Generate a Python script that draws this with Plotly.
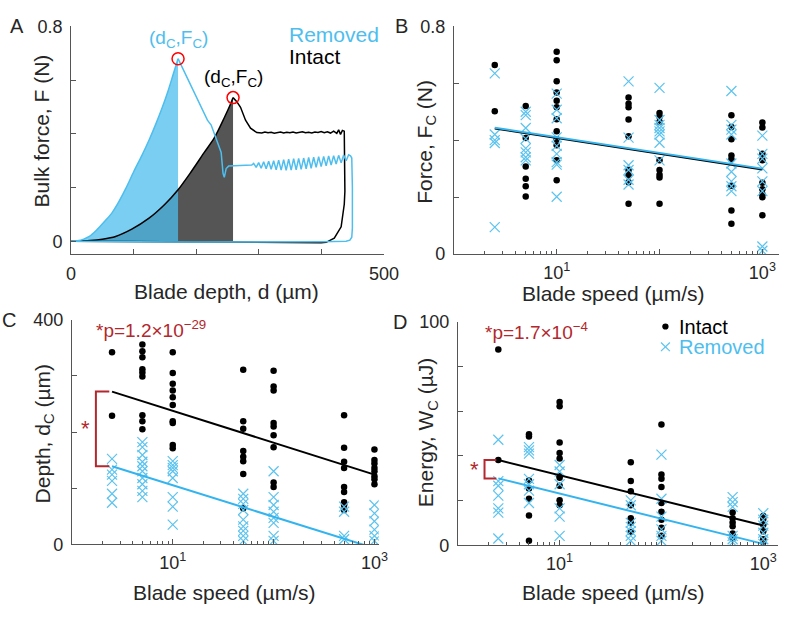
import plotly.graph_objects as go

W, H = 800, 623
def px(x): return x / W
def py(y): return 1 - y / H

BLUE = '#4DBEEE'
XBLUE = '#5cc3ef'
RED = '#b3272d'
TXT = '#262626'
AX = '#555555'
FONT = 'Arial, Liberation Sans, sans-serif'

# ---------------- Panel A: force-depth curves ----------------
rem_load_d = [0, 10, 20, 29, 40, 55, 65, 74, 87, 100, 113, 125, 136, 146, 155, 163, 171]
rem_load_F = [0, 0.002, 0.008, 0.018, 0.04, 0.078, 0.105, 0.138, 0.195, 0.259, 0.319, 0.379, 0.44, 0.5, 0.56, 0.62, 0.68]
rem_post_d = [195, 218, 224, 232, 240, 243, 245, 248, 252, 270, 289]
rem_post_F = [0.565, 0.451, 0.433, 0.385, 0.331, 0.253, 0.238, 0.271, 0.28, 0.282, 0.284]
rem_saw_d = [292, 296, 300, 304, 308, 312, 316, 320, 324, 328, 332, 336, 340, 344, 348, 352, 356, 360,
             364, 368, 372, 376, 380, 384, 388, 392, 396, 400, 404, 408, 412, 416, 420, 424, 428, 432,
             436, 440, 444, 447]
rem_saw_F = [0.290, 0.275, 0.293, 0.272, 0.296, 0.270, 0.298, 0.268, 0.300, 0.266, 0.302, 0.265, 0.304,
             0.264, 0.306, 0.265, 0.308, 0.266, 0.309, 0.268, 0.310, 0.270, 0.312, 0.272, 0.313, 0.275,
             0.315, 0.278, 0.316, 0.281, 0.318, 0.284, 0.319, 0.288, 0.320, 0.292, 0.321, 0.300, 0.322, 0.318]
rem_drop_d = [449, 450, 450, 449, 446, 440, 400, 300, 200, 100, 0]
rem_drop_F = [0.31, 0.2, 0.05, 0.015, 0.004, 0.0, -0.002, -0.003, -0.003, -0.002, 0]

int_load_d = [0, 30, 50, 71, 97, 124, 150, 171, 192, 213, 229, 245, 255, 259]
int_load_F = [0, 0.003, 0.008, 0.018, 0.045, 0.085, 0.138, 0.192, 0.259, 0.331, 0.385, 0.46, 0.511, 0.535]
int_post_d = [265, 271, 279, 287, 297, 305, 310, 315, 320, 325, 330, 335, 340, 345, 350, 355, 360, 365,
              370, 375, 380, 385, 390, 395, 400, 405, 410, 415, 420, 425, 428, 431, 434, 437]
int_post_F = [0.52, 0.499, 0.451, 0.421, 0.405, 0.403, 0.407, 0.404, 0.406, 0.402, 0.405, 0.407, 0.403,
              0.406, 0.404, 0.407, 0.403, 0.405, 0.408, 0.404, 0.406, 0.403, 0.407, 0.405, 0.409, 0.404,
              0.408, 0.403, 0.41, 0.402, 0.415, 0.398, 0.413, 0.41]
int_drop_d = [438, 438, 437, 432, 421, 408, 400, 300, 200, 100, 0]
int_drop_F = [0.30, 0.186, 0.138, 0.054, 0.012, -0.004, -0.005, -0.004, -0.003, -0.002, 0]

depth_ticks = [0, 100, 200, 300, 400, 500]
depth_ticktext = ['0', '', '', '', '', '500']

# ---------------- Panels B-D: per-speed data ----------------
speeds = [2.5, 5, 10, 50, 100, 500, 1000]

force_intact = [
    [0.664, 0.502],
    [0.52, 0.408, 0.307, 0.264, 0.238, 0.202],
    [0.711, 0.681, 0.607, 0.568, 0.539, 0.516, 0.474, 0.431, 0.403, 0.382, 0.329, 0.259],
    [0.55, 0.528, 0.516, 0.473, 0.414, 0.295, 0.276, 0.252, 0.176],
    [0.496, 0.482, 0.465, 0.329, 0.295, 0.278, 0.269, 0.176],
    [0.488, 0.446, 0.403, 0.346, 0.333, 0.24, 0.153, 0.106],
    [0.462, 0.445, 0.352, 0.329, 0.25, 0.227, 0.21, 0.199, 0.136],
]
force_removed = [
    [0.635, 0.42, 0.40, 0.39, 0.094],
    [0.50, 0.488, 0.443, 0.405, 0.371, 0.357, 0.34, 0.329],
    [0.564, 0.507, 0.477, 0.41, 0.38, 0.352, 0.323, 0.314, 0.201],
    [0.607, 0.409, 0.312, 0.295, 0.261, 0.244],
    [0.584, 0.471, 0.454, 0.443, 0.431, 0.42, 0.391, 0.329],
    [0.573, 0.454, 0.437, 0.42, 0.318, 0.289, 0.255, 0.238, 0.221],
    [0.416, 0.352, 0.335, 0.301, 0.255, 0.221, 0.026, 0.011],
]
depth_intact = [
    [342, 229],
    [356, 344, 333, 312, 306, 299, 230, 219, 205],
    [342, 305, 286, 274, 262, 248, 219, 216, 177, 171],
    [311, 219, 206, 166, 156, 148, 125, 64],
    [309, 281, 274, 216, 210, 194, 173, 110, 102],
    [230, 172, 147, 136, 102, 93, 75, 72, 70, 61],
    [169, 150, 144, 136, 130, 121, 116, 107],
]
depth_removed = [
    [152, 133, 124, 113, 90, 74],
    [182, 173, 159, 147, 139, 130, 118, 107, 95, 84],
    [148, 141, 136, 130, 118, 84, 67, 35],
    [90, 81, 72, 61, 44, 32, 24, 15, 6],
    [130, 84, 70, 58, 47, 38, 15, 6],
    [67, 58, 15, 9],
    [70, 55, 41, 26, 15, 6],
]
energy_intact = [
    [87.6, 38.1],
    [49.6, 48.6, 29.0, 25.4, 20.8, 13.3, 2.0],
    [64.1, 62.2, 46.0, 41.3, 38.8, 30.9, 30.2, 26.6, 20.1, 17.9],
    [37.1, 28.7, 24.1, 17.9, 12.1, 10.0, 5.9],
    [54.0, 31.6, 29.7, 26.1, 18.9, 15.0, 11.4, 7.8, 4.2],
    [14.6, 12.1, 10.2, 8.5, 5.2, 3.0],
    [13.1, 11.7, 9.2, 6.3, 2.7, 1.3],
]
energy_removed = [
    [47.2, 28.7, 26.6, 22.2, 16.5, 14.6, 3.0],
    [43.9, 42.4, 41.0, 29.7, 27.3, 24.4, 18.9],
    [35.9, 33.0, 27.3, 16.5, 12.8, 4.2],
    [20.1, 17.9, 10.0, 8.2, 6.3, 4.2, 2.0],
    [40.5, 20.8, 12.8, 7.1, 4.2, 2.0],
    [21.5, 19.3, 17.2, 4.2, 2.7, 1.3],
    [14.3, 11.4, 8.8, 5.6, 2.7, 0.6],
]

fit_x = [2.5, 1000]
fit_force_intact = [0.441, 0.297]
fit_force_removed = [0.444, 0.300]
fit_depth_intact = [272, 124]
fit_depth_removed = [139, -7]
fit_energy_intact = [38.1, 8.8]
fit_energy_removed = [29.9, 0.6]

p_depth = "*p=1.2×10<sup>−29</sup>"
p_energy = "*p=1.7×10<sup>−4</sup>"

fig = go.Figure()

# ---- Panel A traces ----
fig.add_trace(go.Scatter(x=int_load_d, y=int_load_F, xaxis='x', yaxis='y', mode='lines',
                         line=dict(width=0, shape='spline', smoothing=0.8), fill='tozeroy',
                         fillcolor='rgba(62,62,62,0.88)'))
fig.add_trace(go.Scatter(x=rem_load_d, y=rem_load_F, xaxis='x', yaxis='y', mode='lines',
                         line=dict(width=0, shape='spline', smoothing=0.8), fill='tozeroy',
                         fillcolor='rgba(77,190,238,0.75)'))
# black curve
fig.add_trace(go.Scatter(x=int_load_d, y=int_load_F, xaxis='x', yaxis='y', mode='lines',
                         line=dict(color='black', width=1.5, shape='spline', smoothing=0.8)))
fig.add_trace(go.Scatter(x=int_load_d[-1:] + int_post_d + int_drop_d, y=int_load_F[-1:] + int_post_F + int_drop_F,
                         xaxis='x', yaxis='y', mode='lines', line=dict(color='black', width=1.5)))
# blue curve
fig.add_trace(go.Scatter(x=rem_load_d, y=rem_load_F, xaxis='x', yaxis='y', mode='lines',
                         line=dict(color=BLUE, width=1.5, shape='spline', smoothing=0.8)))
fig.add_trace(go.Scatter(x=rem_load_d[-1:] + rem_post_d + rem_saw_d + rem_drop_d,
                         y=rem_load_F[-1:] + rem_post_F + rem_saw_F + rem_drop_F,
                         xaxis='x', yaxis='y', mode='lines', line=dict(color=BLUE, width=1.5)))
fig.add_trace(go.Scatter(x=[rem_load_d[-1], int_load_d[-1]], y=[rem_load_F[-1], int_load_F[-1]],
                         xaxis='x', yaxis='y', mode='markers',
                         marker=dict(symbol='circle-open', size=12, color='red', line=dict(width=1.5))))


def flat(groups):
    xs, ys = [], []
    for s, g in zip(speeds, groups):
        xs += [s] * len(g)
        ys += g
    return xs, ys


def add_panel(xa, ya, intact, removed, fi, fr):
    xi, yi = flat(intact)
    xr, yr = flat(removed)
    fig.add_trace(go.Scatter(x=xi, y=yi, xaxis=xa, yaxis=ya, mode='markers',
                             marker=dict(symbol='circle', size=6.5, color='black')))
    fig.add_trace(go.Scatter(x=xr, y=yr, xaxis=xa, yaxis=ya, mode='markers',
                             marker=dict(symbol='x-thin-open', size=10, color=XBLUE,
                                         line=dict(width=1.2, color=XBLUE))))
    fig.add_trace(go.Scatter(x=fit_x, y=fi, xaxis=xa, yaxis=ya, mode='lines',
                             line=dict(color='black', width=2)))
    fig.add_trace(go.Scatter(x=fit_x, y=fr, xaxis=xa, yaxis=ya, mode='lines',
                             line=dict(color='#33b4ee', width=2)))


add_panel('x2', 'y2', force_intact, force_removed, fit_force_intact, fit_force_removed)
add_panel('x3', 'y3', depth_intact, depth_removed, fit_depth_intact, fit_depth_removed)
add_panel('x4', 'y4', energy_intact, energy_removed, fit_energy_intact, fit_energy_removed)

# significance brackets
for xa, ya, fi, fr, bx in [('x3', 'y3', fit_depth_intact, fit_depth_removed, (1.73, 2.35)),
                           ('x4', 'y4', fit_energy_intact, fit_energy_removed, (1.83, 2.39))]:
    fig.add_trace(go.Scatter(x=[bx[1], bx[0], bx[0], bx[1]], y=[fi[0], fi[0], fr[0], fr[0]],
                             xaxis=xa, yaxis=ya, mode='lines', line=dict(color=RED, width=2)))

# ---- axes ----
common = dict(showline=True, linecolor=AX, linewidth=1, ticks='inside', ticklen=5, tickcolor=AX,
              showgrid=False, zeroline=False, tickfont=dict(size=18, color=TXT, family=FONT),
              fixedrange=True)

minor_vals = [k * 10 ** e for e in range(0, 4) for k in range(2, 10)]
logx = dict(type='log', tickmode='array', tickvals=[1, 10, 100, 1000],
            ticktext=['', '10<sup>1</sup>', '', '10<sup>3</sup>'], ticklabelstandoff=2,
            minor=dict(ticks='inside', ticklen=3, tickcolor=AX, tickmode='array', tickvals=minor_vals))

fig.update_layout(
    width=W, height=H, margin=dict(l=0, r=0, t=0, b=0),
    paper_bgcolor='white', plot_bgcolor='white', showlegend=False,
    font=dict(family=FONT, color=TXT),
    xaxis=dict(domain=[px(72), px(388)], anchor='y', range=[0, 500], tickmode='array',
               tickvals=depth_ticks, ticktext=[''] * len(depth_ticks), **common),
    yaxis=dict(domain=[py(252), py(17)], anchor='x', range=[-0.047, 0.8], tickmode='array',
               tickvals=[0, 0.2, 0.4, 0.6, 0.8], ticktext=['0', '', '', '', '0.8'],
               ticklabelstandoff=4, **common),
    xaxis2=dict(domain=[px(459), px(788)], anchor='y2', range=[0, 3.163], **logx, **common),
    yaxis2=dict(domain=[py(252), py(17)], anchor='x2', range=[0, 0.8], tickmode='array',
                tickvals=[0, 0.2, 0.4, 0.6, 0.8], ticktext=['0', '', '', '', '0.8'],
                ticklabelstandoff=4, **common),
    xaxis3=dict(domain=[px(72.7), px(383)], anchor='y3', range=[0, 3.042], **logx, **common),
    yaxis3=dict(domain=[py(552), py(320)], anchor='x3', range=[0, 400], tickmode='array',
                tickvals=[0, 100, 200, 300, 400], ticktext=['0', '', '', '', '400'],
                ticklabelstandoff=4, **common),
    xaxis4=dict(domain=[px(463), px(787)], anchor='y4', range=[0, 3.146], **logx, **common),
    yaxis4=dict(domain=[py(553), py(322)], anchor='x4', range=[0, 100], tickmode='array',
                tickvals=[0, 20, 40, 60, 80, 100], ticktext=['0', '', '', '', '', '100'],
                ticklabelstandoff=4, **common),
)

ann = []
def txt(x, y, text, size=21, color=TXT, angle=0, xanchor='center', yanchor='middle'):
    ann.append(dict(x=px(x), y=py(y), xref='paper', yref='paper', text=text, showarrow=False,
                    font=dict(size=size, color=color, family=FONT), textangle=angle,
                    xanchor=xanchor, yanchor=yanchor))

# panel A x tick labels (drawn as text at the tick positions)
for v, t in zip(depth_ticks, depth_ticktext):
    if t:
        ann.append(dict(x=v, y=py(273), xref='x', yref='paper', text=t, showarrow=False,
                        font=dict(size=18, color=TXT, family=FONT), yanchor='middle'))

# panel letters
txt(17, 17, 'A', 20); txt(406, 17, 'B', 20); txt(9, 320, 'C', 20); txt(405, 322, 'D', 20)
# axis titles
txt(229, 291, 'Blade depth, d (µm)')
txt(42, 125, 'Bulk force, F (N)', angle=-90)
txt(620, 293, 'Blade speed (µm/s)')
txt(430, 136, 'Force, F<sub>C</sub> (N)', angle=-90)
txt(227, 602, 'Blade speed (µm/s)')
txt(44, 438, 'Depth, d<sub>C</sub> (µm)', angle=-90)
txt(620, 602, 'Blade speed (µm/s)')
txt(432, 436, 'Energy, W<sub>C</sub> (µJ)', angle=-90)
# panel A legend
txt(290, 25, 'Removed', 21, BLUE, xanchor='left')
txt(290, 48, 'Intact', 21, 'black', xanchor='left')
# panel D legend
txt(685, 327, 'Intact', 20, 'black', xanchor='left')
txt(685, 348, 'Removed', 20, BLUE, xanchor='left')
# p values
txt(95, 330, p_depth, 19, RED, xanchor='left')
txt(488, 332, p_energy, 19, RED, xanchor='left')

# (dc,Fc) labels on panel A
ann.append(dict(x=rem_load_d[-1], y=rem_load_F[-1], xref='x', yref='y', text='(d<sub>C</sub>,F<sub>C</sub>)',
                showarrow=False, yanchor='bottom', yshift=6, font=dict(size=19, color=BLUE, family=FONT)))
ann.append(dict(x=int_load_d[-1], y=int_load_F[-1], xref='x', yref='y', text='(d<sub>C</sub>,F<sub>C</sub>)',
                showarrow=False, yanchor='bottom', yshift=6, font=dict(size=19, color='black', family=FONT)))
# stars next to brackets (x in log10 units)
ann.append(dict(x=0.137, y=(fit_depth_intact[0] + fit_depth_removed[0]) / 2, xref='x3', yref='y3', text='*',
                showarrow=False, font=dict(size=22, color=RED, family=FONT)))
ann.append(dict(x=0.166, y=(fit_energy_intact[0] + fit_energy_removed[0]) / 2, xref='x4', yref='y4', text='*',
                showarrow=False, font=dict(size=22, color=RED, family=FONT)))
fig.update_layout(annotations=ann)

# legend symbols in panel D (paper-positioned shapes)
shapes = [
    dict(type='circle', xref='paper', yref='paper', x0=px(669.8), x1=px(676.2), y0=py(330.2), y1=py(323.8),
         fillcolor='black', line=dict(width=0)),
    dict(type='line', xref='paper', yref='paper', x0=px(668.5), x1=px(677.5), y0=py(343.5), y1=py(352.5),
         line=dict(color=XBLUE, width=1.2)),
    dict(type='line', xref='paper', yref='paper', x0=px(668.5), x1=px(677.5), y0=py(352.5), y1=py(343.5),
         line=dict(color=XBLUE, width=1.2)),
]
fig.update_layout(shapes=shapes)

fig.write_html('out.html', config={'displayModeBar': False},
               post_script="document.body.style.margin='0';")
